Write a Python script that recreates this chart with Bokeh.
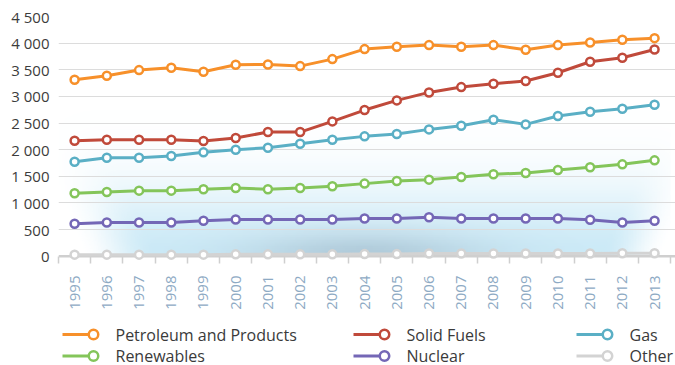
import numpy as np
from bokeh.plotting import figure
from bokeh.layouts import column
from bokeh.models import (ColumnDataSource, Range1d, FixedTicker, Span)
from bokeh.core.properties import value
from bokeh.embed import file_html
from bokeh.resources import INLINE

years = list(range(1995, 2014))
petroleum = [3312, 3387, 3494, 3538, 3463, 3594, 3600, 3569, 3700, 3888, 3931, 3963, 3931, 3963, 3875, 3963, 4013, 4063, 4094]
solid_fuels = [2169, 2187, 2187, 2187, 2163, 2219, 2331, 2331, 2531, 2744, 2925, 3075, 3175, 3238, 3288, 3444, 3650, 3725, 3881]
gas = [1775, 1850, 1850, 1881, 1950, 2000, 2038, 2113, 2188, 2250, 2294, 2381, 2450, 2563, 2475, 2631, 2713, 2769, 2844]
renewables = [1181, 1206, 1231, 1231, 1256, 1281, 1256, 1281, 1313, 1363, 1413, 1438, 1488, 1538, 1563, 1619, 1669, 1725, 1800]
nuclear = [609, 633, 633, 633, 665, 690, 690, 690, 690, 709, 709, 733, 709, 709, 709, 709, 684, 633, 665]
other = [30, 30, 30, 30, 30, 35, 35, 35, 35, 40, 40, 50, 50, 50, 50, 50, 50, 55, 55]

series_names = ["Petroleum and Products", "Solid Fuels", "Gas", "Renewables", "Nuclear", "Other"]
series_values = [petroleum, solid_fuels, gas, renewables, nuclear, other]
series_colors = ["#f7902a", "#c04a3b", "#5aafc5", "#84c55a", "#7467b6", "#d3d3d3"]

y_ticks = [0, 500, 1000, 1500, 2000, 2500, 3000, 3500, 4000, 4500]
y_labels = {t: (f"{t:,}".replace(",", " ")) for t in y_ticks}

FONT = "Open Sans"
LEFT = 58

p = figure(width=675, height=312, output_backend="svg", toolbar_location=None,
           x_range=Range1d(1994.5, 2013.65), y_range=Range1d(-80, 4500),
           min_border_left=LEFT, min_border_right=0, min_border_top=16, min_border_bottom=52)
p.outline_line_color = None
p.background_fill_color = "white"
p.border_fill_color = "white"

# decorative glow in the lower part of the plot
nx, ny = 380, 140
gx = np.linspace(1994.5, 2013.5, nx)
gy = np.linspace(0, 2800, ny)
X, Y = np.meshgrid(gx, gy)
def smooth(a, b, v):
    t = np.clip((v - a) / (b - a), 0, 1)
    return t * t * (3 - 2 * t)
fy = np.exp(-(Y / 1300.0) ** 2)
fx = smooth(1995.2, 1997.6, X + Y / 1400.0) * smooth(2013.3, 2011.3, X - Y / 1400.0)
alpha = 0.72 * fx * fy
w_dark = 0.75 * np.exp(-((X - 2004.0) / 3.6) ** 2 - (Y / 500.0) ** 2)
light = np.array([184, 226, 244], dtype=float)
dark = np.array([132, 168, 190], dtype=float)
rgb = light[None, None, :] * (1 - w_dark[..., None]) + dark[None, None, :] * w_dark[..., None]
img = np.zeros((ny, nx), dtype=np.uint32)
view = img.view(dtype=np.uint8).reshape((ny, nx, 4))
view[..., 0] = rgb[..., 0].astype(np.uint8)
view[..., 1] = rgb[..., 1].astype(np.uint8)
view[..., 2] = rgb[..., 2].astype(np.uint8)
view[..., 3] = (alpha * 255).astype(np.uint8)
p.image_rgba(image=[img], x=1994.5, y=0, dw=19, dh=2800, level="image")

p.xgrid.grid_line_color = None
p.ygrid.ticker = FixedTicker(ticks=y_ticks[1:])
p.ygrid.grid_line_color = "#dcdcdc"
p.ygrid.grid_line_width = 1.2
p.add_layout(Span(location=0, dimension="width", line_color="#cfcfcf", line_width=2.5, level="underlay"))

for name, vals, col in zip(series_names, series_values, series_colors):
    src = ColumnDataSource(dict(x=years, y=vals))
    p.line("x", "y", source=src, line_color=col, line_width=3)
    p.scatter("x", "y", source=src, size=8, fill_color="white", line_color=col, line_width=2.5)

# axes
xa = p.xaxis[0]
xa.ticker = FixedTicker(ticks=years, minor_ticks=[y - 0.5 for y in years] + [years[-1] + 0.5])
xa.axis_line_color = None
xa.major_tick_line_color = None
xa.major_tick_out = 0
xa.major_tick_in = 0
xa.minor_tick_line_color = "#cfcfcf"
xa.minor_tick_line_width = 1.5
xa.minor_tick_out = 3
xa.minor_tick_in = 4
xa.major_label_orientation = np.pi / 2
xa.major_label_standoff = 12
xa.major_label_text_font = FONT
xa.major_label_text_font_size = "15px"
xa.major_label_text_color = "#8eaac4"

ya = p.yaxis[0]
ya.ticker = FixedTicker(ticks=y_ticks)
ya.major_label_overrides = y_labels
ya.axis_line_color = None
ya.major_tick_line_color = None
ya.minor_tick_line_color = None
ya.major_tick_out = 0
ya.major_tick_in = 0
ya.major_label_standoff = 9
ya.major_label_text_font = FONT
ya.major_label_text_font_size = "15px"
ya.major_label_text_color = "#3c3c3c"

# legend panel (pixel-like coordinates; frame aligned with the chart's frame)
lf = figure(width=675, height=53, output_backend="svg", toolbar_location=None,
            x_range=Range1d(LEFT, 675), y_range=Range1d(0, 53), x_axis_type=None, y_axis_type=None,
            min_border_left=LEFT, min_border_right=0, min_border_top=0, min_border_bottom=0)
lf.outline_line_color = None
lf.xgrid.grid_line_color = None
lf.ygrid.grid_line_color = None
lf.background_fill_color = "white"
lf.border_fill_color = "white"

col_left = [62, 353, 576]
row_mid = [31, 9.5]
line_len = 31
text_gap = 22
lx0, lx1, ly, tx = [], [], [], []
for i in range(6):
    c, r = i % 3, i // 3
    lx0.append(col_left[c])
    lx1.append(col_left[c] + line_len)
    ly.append(row_mid[r])
    tx.append(col_left[c] + line_len + text_gap)
lsrc = ColumnDataSource(dict(x0=lx0, x1=lx1, y=ly, tx=tx, name=series_names, color=series_colors))
lf.segment(x0="x0", y0="y", x1="x1", y1="y", source=lsrc, line_color="color", line_width=3)
lf.scatter(x="x1", y="y", source=lsrc, size=9.5, fill_color="white", line_color="color", line_width=2.5)
lf.text(x="tx", y="y", text="name", source=lsrc, text_font=value(FONT), text_font_size="16px",
        text_color="#3a3a3a", text_baseline="middle", text_align="left")

layout = column(p, lf, spacing=0)
open("out.html", "w").write(file_html(layout, INLINE))
